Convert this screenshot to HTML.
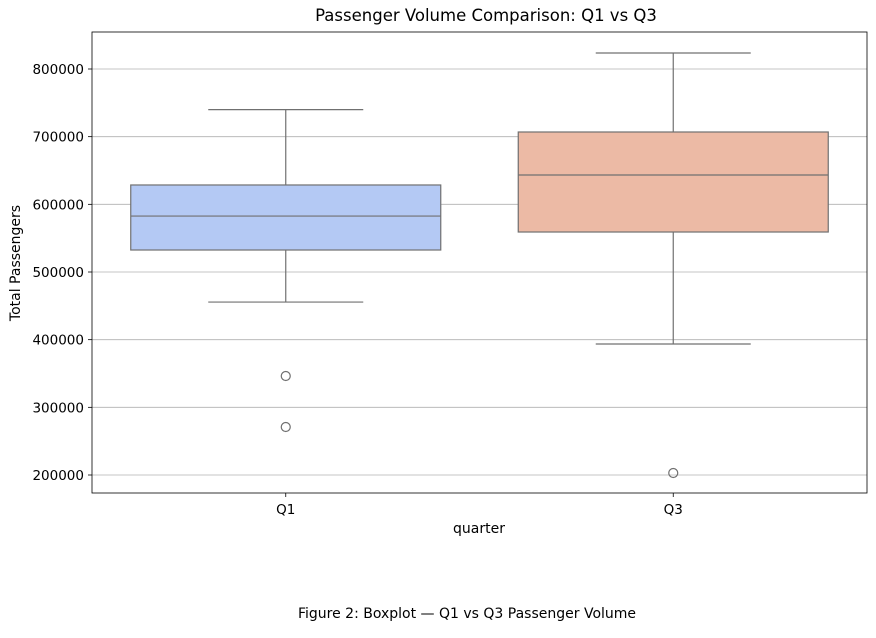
<!DOCTYPE html>
<html><head><meta charset="utf-8"><style>
body{margin:0;background:#fff;font-family:"Liberation Sans","DejaVu Sans",sans-serif}
svg text{font-family:"DejaVu Sans","Liberation Sans",sans-serif}
.lbl{position:absolute;font-family:'DejaVu Sans',sans-serif;white-space:nowrap}
</style></head><body>
<svg width="876" height="633" id="chart"></svg>
<script>
const categories=["Q1","Q3"];
const mins=[455600,393600];
const lowerQ=[532500,559100];
const medians=[582700,643300];
const upperQ=[628600,706900];
const maxs=[740000,823600];
const outliers=[[346300,270900],[203000]];
const colors=["#b4c9f4","#ecbaa5"];
const yTicks=[200000,300000,400000,500000,600000,700000,800000];
const NS="http://www.w3.org/2000/svg";
const svg=document.getElementById("chart");
const L=92,R=867,T=32,B=493;
const y=v=>475-(v-200000)*406/600000;
const x=i=>L+(R-L)*(i+0.5)/categories.length;
const bw=(R-L)/categories.length*0.8;
function mk(t,a,p){const e=document.createElementNS(NS,t);for(const k in a)e.setAttribute(k,a[k]);(p||svg).appendChild(e);return e;}
yTicks.forEach(v=>{
 const g=mk("line",{x1:L,x2:R,y1:y(v),y2:y(v),stroke:"#b0b0b0","stroke-width":0.8});
 
 
 mk("line",{x1:L-4,x2:L,y1:y(v),y2:y(v),stroke:"#000","stroke-width":0.8});
 const t=mk("text",{x:L-8,y:y(v)+5,"text-anchor":"end","font-size":13.5});t.textContent=v;
 
 
});
categories.forEach((c,i)=>{
 const cx=x(i),g=mk("g",{});
 
 
 const s={stroke:"#707070","stroke-width":1.2,fill:"none"};
 mk("line",Object.assign({x1:cx,x2:cx,y1:y(maxs[i]),y2:y(upperQ[i])},s),g);
 mk("line",Object.assign({x1:cx,x2:cx,y1:y(lowerQ[i]),y2:y(mins[i])},s),g);
 mk("line",Object.assign({x1:cx-bw/4,x2:cx+bw/4,y1:y(maxs[i]),y2:y(maxs[i])},s),g);
 mk("line",Object.assign({x1:cx-bw/4,x2:cx+bw/4,y1:y(mins[i]),y2:y(mins[i])},s),g);
 mk("rect",{x:cx-bw/2,y:y(upperQ[i]),width:bw,height:y(lowerQ[i])-y(upperQ[i]),fill:colors[i],stroke:"#707070","stroke-width":1.2},g);
 mk("line",Object.assign({x1:cx-bw/2,x2:cx+bw/2,y1:y(medians[i]),y2:y(medians[i])},s),g);
 outliers[i].forEach(o=>{const p=mk("circle",{cx:cx,cy:y(o),r:4.5,fill:"none",stroke:"#707070","stroke-width":1.2},g);
  
  });
 mk("line",{x1:cx,x2:cx,y1:B,y2:B+4,stroke:"#000","stroke-width":0.8});
 const t=mk("text",{x:cx,y:B+21,"text-anchor":"middle","font-size":13.5});t.textContent=c;
 
 
});
mk("rect",{x:L,y:T,width:R-L,height:B-T,fill:"none",stroke:"#000","stroke-width":0.8});
</script>
<div class="lbl" style="left:186px;width:600px;top:6px;text-align:center;font-size:16.5px">Passenger Volume Comparison: Q1 vs Q3</div>
<div class="lbl" style="left:379px;width:200px;top:521px;text-align:center;font-size:14px">quarter</div>
<div class="lbl" style="left:-84px;top:255px;width:200px;text-align:center;transform:rotate(-90deg);font-size:14px">Total Passengers</div>
<div class="lbl" style="left:167px;width:600px;top:606px;text-align:center;font-size:14px">Figure 2: Boxplot — Q1 vs Q3 Passenger Volume</div>
</body></html>
